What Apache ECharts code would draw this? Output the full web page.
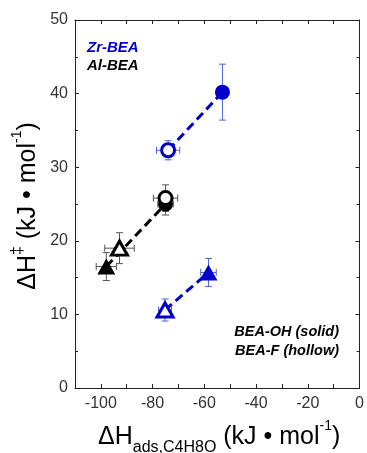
<!DOCTYPE html>
<html><head><meta charset="utf-8">
<script src="https://cdn.jsdelivr.net/npm/echarts@6/dist/echarts.min.js"></script>
<style>html,body{margin:0;padding:0;background:#fff}#c{width:367px;height:453px}</style>
</head><body><div id="c"></div>
<script>
// index 0 = circle, index 1 = triangle
const zrF_x = [-74.0, -75.2], zrF_y = [32.3, 10.6], zrF_xErr = [4.5, 2.5], zrF_yErr = [1.3, 1.5];
const zrOH_x = [-53.0, -58.4], zrOH_y = [40.2, 15.7], zrOH_xErr = [1.5, 3.0], zrOH_yErr = [3.8, 1.9];
const alF_x = [-75.0, -92.8], alF_y = [25.8, 19.0], alF_xErr = [4.7, 5.7], alF_yErr = [1.8, 2.1];
const alOH_x = [-75.0, -97.9], alOH_y = [25.0, 16.5], alOH_xErr = [3.0, 3.9], alOH_yErr = [1.5, 1.9];
const xMin = -110, xMax = 0, xStep = 10;
const yMin = 0, yMax = 50, yStep = 10;
const labelsText = ['Zr-BEA', 'Al-BEA', 'BEA-OH (solid)', 'BEA-F (hollow)'];

const BLUE = '#0000cc', BLUE_ERR = '#4d63e0', BLACK = '#000', BLACK_ERR = '#555';
const FONT = '"Liberation Sans", Arial, sans-serif';

function errSeries(xs, ys, xe, ye, color) {
  return {
    type: 'custom', silent: true, z: 2,
    encode: {x: 0, y: 1},
    data: xs.map((x, i) => [x, ys[i], xe[i], ye[i]]),
    renderItem: (p, api) => {
      const x = api.value(0), y = api.value(1), dx = api.value(2), dy = api.value(3);
      const c = api.coord([x, y]), l = api.coord([x - dx, y]), r = api.coord([x + dx, y]);
      const t = api.coord([x, y + dy]), b = api.coord([x, y - dy]);
      const cap = 3.5, st = {stroke: color, lineWidth: 1};
      return {type: 'group', children: [
        {type: 'line', shape: {x1: l[0], y1: c[1], x2: r[0], y2: c[1]}, style: st},
        {type: 'line', shape: {x1: c[0], y1: t[1], x2: c[0], y2: b[1]}, style: st},
        {type: 'line', shape: {x1: l[0], y1: c[1] - cap, x2: l[0], y2: c[1] + cap}, style: st},
        {type: 'line', shape: {x1: r[0], y1: c[1] - cap, x2: r[0], y2: c[1] + cap}, style: st},
        {type: 'line', shape: {x1: c[0] - cap, y1: t[1], x2: c[0] + cap, y2: t[1]}, style: st},
        {type: 'line', shape: {x1: c[0] - cap, y1: b[1], x2: c[0] + cap, y2: b[1]}, style: st}
      ]};
    }
  };
}
function markSeries(xs, ys, color, hollow) {
  return {
    type: 'scatter', z: 5, silent: true,
    data: xs.map((x, i) => ({
      value: [x, ys[i]],
      symbol: i === 0 ? 'circle' : 'triangle',
      symbolSize: i === 0 ? (hollow ? 13 : 15) : (hollow ? [16, 14] : [18, 16])
    })),
    itemStyle: hollow ? {color: '#fff', borderColor: color, borderWidth: 3, opacity: 1}
                      : {color: color, opacity: 1}
  };
}
function lineSeries(pts, color) {
  return {
    type: 'line', z: 3, silent: true, showSymbol: false, symbol: 'none',
    data: pts, lineStyle: {color: color, width: 3, type: [9, 5], opacity: 1}
  };
}

const axisCommon = {
  axisLine: {show: true, onZero: false, lineStyle: {color: '#222', width: 1}},
  axisTick: {show: true, inside: true, length: 4, lineStyle: {color: '#222'}},
  splitLine: {show: false}
};

const chart = echarts.init(document.getElementById('c'), null, {renderer: 'canvas'});
chart.setOption({
  animation: false,
  grid: {left: 75, right: 4, top: 20, bottom: 65, containLabel: false},
  xAxis: [
    Object.assign({type: 'value', min: xMin, max: xMax, interval: xStep, position: 'bottom',
      axisLabel: {fontSize: 16, color: '#333', margin: 8, fontFamily: FONT,
        formatter: v => (v % 20 === 0 ? String(v) : '')}}, axisCommon),
    Object.assign({type: 'value', min: xMin, max: xMax, interval: xStep, position: 'top',
      axisLabel: {show: false}}, axisCommon)
  ],
  yAxis: [
    Object.assign({type: 'value', min: yMin, max: yMax, interval: yStep, position: 'left',
      minorTick: {show: true, splitNumber: 2, length: 3, lineStyle: {color: '#222'}},
      axisLabel: {fontSize: 16, color: '#333', margin: 7, fontFamily: FONT}}, axisCommon),
    Object.assign({type: 'value', min: yMin, max: yMax, interval: yStep, position: 'right',
      minorTick: {show: true, splitNumber: 2, length: 3, lineStyle: {color: '#222'}},
      axisLabel: {show: false}}, axisCommon)
  ],
  series: [
    lineSeries([[zrF_x[0], zrF_y[0]], [zrOH_x[0], zrOH_y[0]]], BLUE),
    lineSeries([[zrF_x[1], zrF_y[1]], [zrOH_x[1], zrOH_y[1]]], BLUE),
    lineSeries([[alOH_x[1], alOH_y[1]], [alOH_x[0], alOH_y[0]]], BLACK),
    errSeries(zrF_x, zrF_y, zrF_xErr, zrF_yErr, BLUE_ERR),
    errSeries(zrOH_x, zrOH_y, zrOH_xErr, zrOH_yErr, BLUE_ERR),
    errSeries(alF_x, alF_y, alF_xErr, alF_yErr, BLACK_ERR),
    errSeries(alOH_x, alOH_y, alOH_xErr, alOH_yErr, BLACK_ERR),
    markSeries(alOH_x, alOH_y, BLACK, false),
    markSeries(alF_x, alF_y, BLACK, true),
    markSeries(zrOH_x, zrOH_y, BLUE, false),
    markSeries(zrF_x, zrF_y, BLUE, true)
  ],
  graphic: [
    {type: 'text', x: 87, y: 48, style: {text: labelsText[0], fill: BLUE, verticalAlign: 'middle',
      font: 'italic bold 15px ' + FONT}},
    {type: 'text', x: 87, y: 66, style: {text: labelsText[1], fill: '#000', verticalAlign: 'middle',
      font: 'italic bold 15px ' + FONT}},
    {type: 'text', x: 339, y: 332, style: {text: labelsText[2], fill: '#000', align: 'right', verticalAlign: 'middle',
      font: 'italic bold 14.5px ' + FONT}},
    {type: 'text', x: 339, y: 351, style: {text: labelsText[3], fill: '#000', align: 'right', verticalAlign: 'middle',
      font: 'italic bold 14.5px ' + FONT}},
    {type: 'text', x: 98, y: 437.5, style: {
      text: '{m|ΔH}{s|ads,C4H8O}{m| (kJ • mol}{p|-1}{m|)}',
      verticalAlign: 'middle', fill: '#000',
      rich: {
        m: {fontSize: 25, fontFamily: FONT, lineHeight: 36, verticalAlign: 'middle'},
        s: {fontSize: 16, fontFamily: FONT, lineHeight: 14, verticalAlign: 'bottom'},
        p: {fontSize: 14, fontFamily: FONT, lineHeight: 29, verticalAlign: 'top'}
      }
    }},
    {type: 'text', x: 28, y: 206, rotation: Math.PI / 2, style: {
      text: '{m|ΔH}{q|‡}{m| (kJ • mol}{p|-1}{m|)}',
      align: 'center', verticalAlign: 'middle', fill: '#000',
      rich: {
        m: {fontSize: 25, fontFamily: FONT, lineHeight: 36, verticalAlign: 'middle'},
        q: {fontSize: 16, fontFamily: FONT, lineHeight: 32, verticalAlign: 'top'},
        p: {fontSize: 14, fontFamily: FONT, lineHeight: 29, verticalAlign: 'top'}
      }
    }}
  ]
});
</script>
</body></html>
